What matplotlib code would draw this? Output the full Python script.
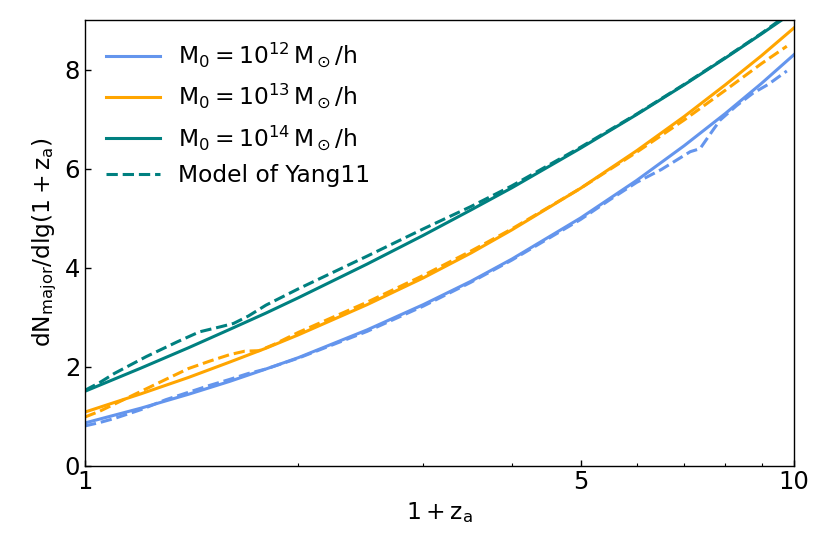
import matplotlib
matplotlib.use('Agg')
import matplotlib.pyplot as plt
from matplotlib.ticker import FixedLocator, FixedFormatter, NullFormatter

# 1 + z_a
x_sim = [1.0, 1.2, 1.4, 1.6, 1.8, 2.0, 2.5, 3.0, 3.5, 4.0, 5.0, 6.0, 7.0, 8.0, 9.0, 10.0]
m12_sim = [0.86, 1.16, 1.44, 1.70, 1.95, 2.18, 2.74, 3.25, 3.72, 4.17, 5.00, 5.76, 6.46, 7.11, 7.72, 8.30]
m13_sim = [1.08, 1.45, 1.78, 2.09, 2.37, 2.64, 3.25, 3.79, 4.29, 4.76, 5.60, 6.36, 7.05, 7.69, 8.28, 8.84]
m14_sim = [1.50, 1.97, 2.38, 2.75, 3.08, 3.39, 4.07, 4.65, 5.16, 5.61, 6.41, 7.09, 7.69, 8.23, 8.72, 9.17]

# Yang11 model curves
x_m12 = [1.0, 1.05, 1.1, 1.2, 1.3, 1.4, 1.5, 1.6, 1.7, 1.8, 2.0, 2.5, 3.0, 3.5, 4.0, 5.0, 5.5, 6.0,
         6.5, 7.14, 7.37, 7.69, 7.87, 8.3, 8.75, 9.2, 9.77]
y_m12 = [0.80, 0.87, 0.95, 1.13, 1.33, 1.48, 1.62, 1.74, 1.86, 1.95, 2.17, 2.71, 3.22, 3.70, 4.15, 4.97,
         5.37, 5.72, 5.98, 6.34, 6.40, 6.78, 6.98, 7.27, 7.52, 7.70, 7.97]
x_m13 = [1.0, 1.05, 1.1, 1.2, 1.3, 1.4, 1.5, 1.6, 1.68, 1.76, 1.85, 2.0, 2.5, 3.0, 3.5, 4.0,
         5.0, 6.0, 7.0, 8.0, 9.0, 9.77]
y_m13 = [0.98, 1.10, 1.24, 1.50, 1.74, 1.96, 2.11, 2.24, 2.31, 2.32, 2.45, 2.69, 3.30, 3.84, 4.33, 4.78,
         5.60, 6.33, 6.98, 7.58, 8.12, 8.47]
x_m14 = [1.0, 1.05, 1.1, 1.22, 1.35, 1.45, 1.55, 1.62, 1.7, 1.8, 2.0, 2.5, 3.0, 3.5, 4.0, 5.0,
         6.0, 7.0, 8.0, 9.0, 9.77]
y_m14 = [1.52, 1.68, 1.86, 2.20, 2.50, 2.70, 2.80, 2.87, 3.02, 3.24, 3.57, 4.23, 4.78, 5.23, 5.65, 6.43,
         7.10, 7.70, 8.24, 8.73, 9.10]

plt.rcParams['mathtext.fontset'] = 'dejavusans'

fig = plt.figure(figsize=(8.3, 5.54), dpi=100)
ax = fig.add_axes([0.1024, 0.1597, 0.8542, 0.8042])

lw = 2.2
ax.plot(x_sim, m12_sim, color='cornflowerblue', lw=lw, label=r'$\rm M_0=10^{12}\,M_\odot/h$')
ax.plot(x_sim, m13_sim, color='orange', lw=lw, label=r'$\rm M_0=10^{13}\,M_\odot/h$')
ax.plot(x_sim, m14_sim, color='teal', lw=lw, label=r'$\rm M_0=10^{14}\,M_\odot/h$')
ax.plot(x_m12, y_m12, color='cornflowerblue', lw=lw, ls='--')
ax.plot(x_m13, y_m13, color='orange', lw=lw, ls='--')
ax.plot(x_m14, y_m14, color='teal', lw=lw, ls='--', label='Model of Yang11')

ax.set_xscale('log')
ax.set_xlim(1, 10)
ax.set_ylim(0, 9)
ax.xaxis.set_major_locator(FixedLocator([1, 5, 10]))
ax.xaxis.set_major_formatter(FixedFormatter(['1', '5', '10']))
ax.xaxis.set_minor_locator(FixedLocator([2, 3, 4, 6, 7, 8, 9]))
ax.xaxis.set_minor_formatter(NullFormatter())
ax.set_yticks([0, 2, 4, 6, 8])

ax.tick_params(which='major', direction='in', length=4.5, width=1, labelsize=17.5)
ax.tick_params(which='minor', direction='in', length=2.5, width=0.8)
for s in ax.spines.values():
    s.set_linewidth(1.0)

ax.set_xlabel(r'$\rm 1+z_a$', fontsize=16.8)
ax.set_ylabel(r'$\rm dN_{major}/dlg(1+z_a)$', fontsize=16.8)

ax.legend(loc='upper left', frameon=False, fontsize=16.8, handlelength=2.3)

fig.savefig('out.png', dpi=100)
